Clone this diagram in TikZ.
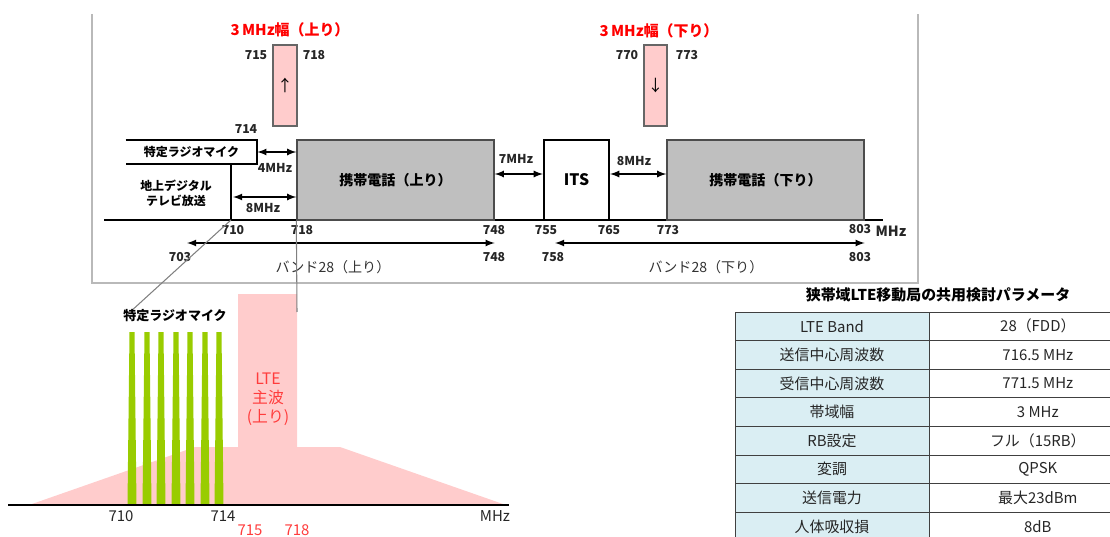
\documentclass[tikz,border=0pt]{standalone}
\usepackage{fontspec}
\setmainfont{Noto Sans CJK JP}
\usetikzlibrary{positioning}
\definecolor{BandGray}{RGB}{191,191,191}
\definecolor{LtePink}{RGB}{255,204,204}
\definecolor{MicGreen}{RGB}{153,204,0}
\definecolor{TitleRed}{RGB}{255,0,0}
\definecolor{LteRed}{RGB}{255,60,60}
\definecolor{CellBlue}{RGB}{218,238,243}
\definecolor{FrameGray}{RGB}{185,185,185}

\begin{document}
\begin{tikzpicture}[x=0.02cm, y=-0.02cm, >=latex,
  num/.style={font=\bfseries\fontsize{7}{7}\selectfont, text=black!85, inner sep=0pt},
  bandbox/.style={draw=black!70, line width=0.8pt, fill=BandGray, minimum height=1.6cm, inner sep=0pt, font=\bfseries\fontsize{8}{9}\selectfont},
  slot/.style={draw=black!60, line width=0.6pt, fill=LtePink, minimum height=1.62cm, inner sep=0pt, font=\fontsize{9}{9}\selectfont},
  redtitle/.style={font=\bfseries\fontsize{8.5}{9}\selectfont, text=TitleRed},
  gap/.style={<->, line width=0.8pt},
  plain/.style={font=\fontsize{8.5}{9}\selectfont, text=black!85, inner sep=0pt},
  cell/.style={draw=black!75, line width=0.5pt, minimum height=0.572cm, inner sep=0pt, font=\fontsize{8.5}{9}\selectfont, text=black!85}]
  \clip (0,0) rectangle (1110,537);

  % frame of the band plan
  \draw[FrameGray, line width=0.6pt] (92,14) -- (92,283) -- (918,283) -- (918,14);

  % band plan
  \coordinate (ax0) at (104,220);
  \coordinate (ax1) at (883,220);
  \draw[line width=1.1pt] (ax0) -- (ax1);

  \node[bandbox, minimum width=3.94cm] (up) at (395.5,180) {携帯電話（上り）};
  \node[bandbox, fill=white, draw=black, line width=1.3pt, minimum width=1.3cm, font=\bfseries\fontsize{9}{9}\selectfont] (its) at (576.5,180) {ITS};
  \node[bandbox, minimum width=3.94cm] (down) at (765.5,180) {携帯電話（下り）};
  \node[minimum width=2.62cm, minimum height=0.48cm, inner sep=0pt, font=\bfseries\fontsize{6.8}{7}\selectfont] (mic) at (191.5,152) {特定ラジオマイク};
  \draw[line width=1.2pt] (mic.north west) -- (mic.north east) -- (mic.south east) -- (mic.south west);
  \coordinate (tvtop) at (231,164);
  \coordinate (tvbot) at (231,220);
  \draw[line width=1.2pt] (tvtop) -- (tvbot);
  \node[align=center, font=\bfseries\fontsize{6.8}{8.5}\selectfont, inner sep=0pt] (tv) at (176,193) {地上デジタル\\テレビ放送};

  \node[slot, minimum width=0.48cm] (slotup) at (285,85.5) {↑};
  \node[slot, minimum width=0.46cm] (slotdown) at (655.5,85.5) {↓};
  \node[redtitle] (titleup) at (290,30) {3\,MHz幅（上り）};
  \node[redtitle] (titledown) at (659,31) {3\,MHz幅（下り）};
  \node[num] at (256,55) {715};
  \node[num] at (314,55) {718};
  \node[num] at (627,55) {770};
  \node[num] at (687,55) {773};
  \node[num] at (246,129) {714};

  % gaps
  \coordinate (tv8) at (233,197);
  \draw[gap] (mic.east) -- (mic.east -| up.west);
  \draw[gap] (tv8) -- (tv8 -| up.west);
  \draw[gap] ([yshift=0.12cm]up.east) -- ([yshift=0.12cm]its.west);
  \draw[gap] ([yshift=0.12cm]its.east) -- ([yshift=0.12cm]down.west);
  \node[num] at (275,168) {4MHz};
  \node[num] at (263,208) {8MHz};
  \node[num] at (516,159) {7MHz};
  \node[num] at (634,161) {8MHz};

  % axis labels
  \node[num] at (233,230) {710};
  \node[num] at (302,230) {718};
  \node[num] at (494,230) {748};
  \node[num] at (546,230) {755};
  \node[num] at (609,230) {765};
  \node[num] at (668,230) {773};
  \node[num] at (860,229) {803};
  \node[num, font=\bfseries\fontsize{8}{8}\selectfont] at (891,231) {MHz};

  % band 28
  \coordinate (b703) at (187,243);
  \coordinate (b758) at (555,243);
  \draw[gap] (b703) -- (b703 -| up.east);
  \draw[gap] (b758) -- (b758 -| down.east);
  \node[num] at (180,257) {703};
  \node[num] at (494,257) {748};
  \node[num] at (553,257) {758};
  \node[num] at (860,257) {803};
  \node[plain, font=\fontsize{8}{8}\selectfont, text=black!80] (b28up) at (333,267) {バンド28（上り）};
  \node[plain, font=\fontsize{8}{8}\selectfont, text=black!80] (b28down) at (706,267) {バンド28（下り）};

  % spectrum
  \fill[LtePink] (32,504) -- (195,447) -- (238,447) -- (238,294) -- (297,294) -- (297,447) -- (340,447) -- (503,504) -- cycle;
  \foreach \c in {132,147,161,176,190,205,219}
    \fill[MicGreen] (\c-4.5,505) -- (\c-2.5,332) -- (\c+2.5,332) -- (\c+4.5,505) -- cycle;
  \coordinate (ax2) at (8,505);
  \coordinate (ax3) at (509,505);
  \draw[line width=1.1pt] (ax2) -- (ax3);
  \node[font=\bfseries\fontsize{7.4}{8}\selectfont, inner sep=0pt] (mic2) at (175,316) {特定ラジオマイク};
  \node[align=center, text=LteRed, font=\fontsize{9}{10.8}\selectfont, inner sep=0pt] (lte) at (268,399) {LTE\\主波\\(上り)};
  \coordinate (lteTop) at (297,312);
  \draw[black!50, line width=0.6pt] (tvbot) -- ([xshift=0.2cm]mic2.north west);
  \draw[black!50, line width=0.6pt] (up.south west) -- (lteTop);
  \node[plain] at (121,516) {710};
  \node[plain] at (223,516) {714};
  \node[plain] at (495,516) {MHz};
  \node[plain, text=LteRed] at (250,530) {715};
  \node[plain, text=LteRed] at (297,530) {718};

  % parameter table
  \node[font=\bfseries\fontsize{8.5}{9}\selectfont, inner sep=0pt] (tabtitle) at (938,295) {狭帯域LTE移動局の共用検討パラメータ};
  \foreach \k/\v [count=\i] in {LTE Band/28（FDD）, 送信中心周波数/716.5 MHz, 受信中心周波数/771.5 MHz, 帯域幅/3 MHz, RB設定/フル（15RB）, 変調/QPSK, 送信電力/最大23dBm, 人体吸収損/8dB} {
    \node[cell, fill=CellBlue, minimum width=3.88cm] (key\i) at (832,297.7+28.6*\i) {\k};
    \node[cell, fill=white, minimum width=4.32cm, right=0pt of key\i] (val\i) {\v};
  }
\end{tikzpicture}
\end{document}
